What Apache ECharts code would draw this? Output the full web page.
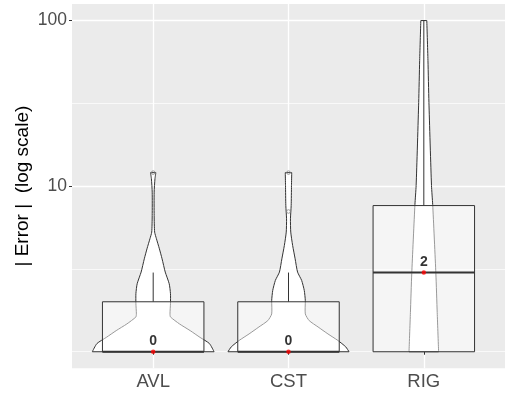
<!DOCTYPE html>
<html>
<head>
<meta charset="utf-8">
<script src="https://cdn.jsdelivr.net/npm/echarts@6/dist/echarts.min.js"></script>
<style>
  html, body { margin: 0; padding: 0; background: #ffffff; }
  #chart { width: 505px; height: 394px; }
</style>
</head>
<body>
<div id="chart"></div>
<script>
// Groups on the x axis
const categories = ['AVL', 'CST', 'RIG'];

// Box-plot summaries of |Error| per group
const whiskerLow = [0, 0, 0];
const q1 = [0, 0, 0];
const medians = [0, 0, 2];
const q3 = [1, 1, 6.6];
const whiskerHigh = [2, 2, 98];
const outliers = [[11], [11, 6], []];

// Violin outlines: |Error| levels (bottom to top) and relative density (widest = 1)
const avlLevels  = [0, 0.12, 0.22, 0.34, 0.47, 0.62, 0.69, 0.95, 1.24, 1.57, 2.02, 2.63, 3.17, 3.8, 4.26, 5.62, 8.15, 10.0, 11];
const avlDensity = [1, 0.924, 0.77, 0.608, 0.433, 0.284, 0.276, 0.284, 0.284, 0.263, 0.198, 0.146, 0.102, 0.053, 0.024, 0.016, 0.016, 0.029, 0.044];
const cstLevels  = [0, 0.07, 0.17, 0.28, 0.41, 0.54, 0.69, 1.04, 1.34, 1.69, 2.02, 2.63, 3.37, 4.26, 5.33, 6.61, 9.04, 11];
const cstDensity = [0.994, 0.94, 0.81, 0.648, 0.486, 0.34, 0.276, 0.276, 0.259, 0.216, 0.149, 0.109, 0.068, 0.037, 0.032, 0.044, 0.049, 0.053];
const rigLevels  = [0, 0.72, 1.96, 6.7, 9.04, 30.8, 56, 98];
const rigDensity = [0.243, 0.22, 0.198, 0.146, 0.126, 0.084, 0.068, 0.049];

// Y axis tick labels (log scale)
const yTickLabels = [10, 100];
const yMinorLines = [1, Math.sqrt(10), Math.sqrt(1000)];

const violinLevels = [avlLevels, cstLevels, rigLevels];
const violinDensity = [avlDensity, cstDensity, rigDensity];

// position on the log axis
const t = e => Math.log10(e + 1);

const VIOLIN_HALF = 0.45;   // half width of the widest violin, in category units
const BOX_WIDTH = 0.75;
const FONT = "'Liberation Sans', Arial, sans-serif";
const INK = '#333333';

function renderGroup(params, api) {
  const i = params.dataIndex;
  const cx = i + 1;
  const lv = violinLevels[i];
  const dn = violinDensity[i];
  const left = [], right = [];
  for (let k = 0; k < lv.length; k++) {
    left.push(api.coord([cx - dn[k] * VIOLIN_HALF, t(lv[k])]));
    right.push(api.coord([cx + dn[k] * VIOLIN_HALF, t(lv[k])]));
  }
  const n = lv.length - 1;

  const tl = api.coord([cx - BOX_WIDTH / 2, t(q3[i])]);
  const br = api.coord([cx + BOX_WIDTH / 2, t(q1[i])]);
  const c = api.coord([cx, 0])[0];
  const yHi = api.coord([cx, t(whiskerHigh[i])])[1];
  const yLo = api.coord([cx, t(whiskerLow[i])])[1];
  const yMed = api.coord([cx, t(medians[i])])[1];

  const sideStyle = { fill: null, stroke: INK, lineWidth: 1 };
  const children = [
    // violin body
    {
      type: 'polygon',
      shape: { points: left.concat(right.slice().reverse()) },
      style: { fill: '#ffffff', stroke: null }
    },
    { type: 'polyline', shape: { points: left, smooth: 0.2 }, style: sideStyle },
    { type: 'polyline', shape: { points: right, smooth: 0.2 }, style: sideStyle },
    { type: 'line', shape: { x1: left[n][0], y1: left[n][1], x2: right[n][0], y2: right[n][1] }, style: sideStyle },
    { type: 'line', shape: { x1: left[0][0], y1: left[0][1], x2: right[0][0], y2: right[0][1] }, style: sideStyle },
    // whiskers
    {
      type: 'line',
      shape: { x1: c, y1: tl[1], x2: c, y2: yHi },
      style: { stroke: INK, lineWidth: 1 }
    },
    {
      type: 'line',
      shape: { x1: c, y1: br[1], x2: c, y2: yLo },
      style: { stroke: INK, lineWidth: 1 }
    },
    // box
    {
      type: 'rect',
      shape: { x: tl[0], y: tl[1], width: br[0] - tl[0], height: br[1] - tl[1] },
      style: { fill: 'rgba(255,255,255,0.5)', stroke: INK, lineWidth: 1 }
    },
    // median
    {
      type: 'line',
      shape: { x1: tl[0], y1: yMed, x2: br[0], y2: yMed },
      style: { stroke: INK, lineWidth: 2 }
    }
  ];
  outliers[i].forEach(o => {
    const p = api.coord([cx, t(o)]);
    children.push({
      type: 'circle',
      shape: { cx: p[0], cy: p[1], r: 1.8 },
      style: { fill: null, stroke: '#8a8a8a', lineWidth: 0.8 }
    });
  });
  return { type: 'group', children: children };
}

const chart = echarts.init(document.getElementById('chart'), null, { renderer: 'canvas' });

const axisTickStyle = { show: true, length: 3, lineStyle: { color: INK, width: 1 } };

chart.setOption({
  animation: false,
  backgroundColor: '#ffffff',
  grid: {
    left: 72, top: 4, width: 437, height: 364.3,
    show: true, backgroundColor: '#EBEBEB', borderWidth: 0
  },
  xAxis: {
    type: 'value',
    min: 0.4, max: 3.6,
    axisLine: { show: false },
    axisTick: Object.assign({ customValues: [1, 2, 3] }, axisTickStyle),
    axisLabel: {
      customValues: [1, 2, 3],
      formatter: v => categories[Math.round(v) - 1],
      color: '#4D4D4D', fontSize: 18.5, fontFamily: FONT, margin: 4
    },
    splitLine: { show: true, lineStyle: { color: '#ffffff', width: 1.3 } }
  },
  yAxis: [
    {
      type: 'value',
      min: -0.0998, max: 2.0954,
      name: '| Error |  (log scale)',
      nameLocation: 'middle',
      nameRotate: 90,
      nameGap: 40,
      nameMoveOverlap: false,
      nameTextStyle: { color: '#000000', fontSize: 19, fontFamily: FONT },
      axisLine: { show: false },
      axisTick: Object.assign({ customValues: yTickLabels.map(v => Math.log10(v)) }, axisTickStyle),
      axisLabel: {
        customValues: yTickLabels.map(v => Math.log10(v)),
        formatter: v => String(Math.round(Math.pow(10, v))),
        color: '#4D4D4D', fontSize: 17.5, fontFamily: FONT, margin: 5
      },
      splitLine: { show: true, lineStyle: { color: '#ffffff', width: 1.3 } }
    },
    {
      type: 'value',
      min: -0.0998, max: 2.0954,
      axisLine: { show: false },
      axisTick: { show: false, customValues: yMinorLines.map(v => Math.log10(v)) },
      axisLabel: { show: false },
      splitLine: { show: true, lineStyle: { color: '#ffffff', width: 0.7 } }
    }
  ],
  series: [
    {
      type: 'custom',
      renderItem: renderGroup,
      data: categories.map((c, i) => [i + 1, t(medians[i])]),
      encode: { x: 0, y: 1 },
      clip: true,
      z: 2
    },
    {
      type: 'scatter',
      data: categories.map((c, i) => [i + 1, t(medians[i])]),
      symbol: 'circle',
      symbolSize: 4.5,
      itemStyle: { color: '#FF0000' },
      label: {
        show: true,
        position: 'top',
        distance: 1,
        formatter: p => String(medians[p.dataIndex]),
        color: '#000000', fontWeight: 'bold', fontSize: 14, fontFamily: FONT
      },
      z: 5
    }
  ]
});
</script>
</body>
</html>
